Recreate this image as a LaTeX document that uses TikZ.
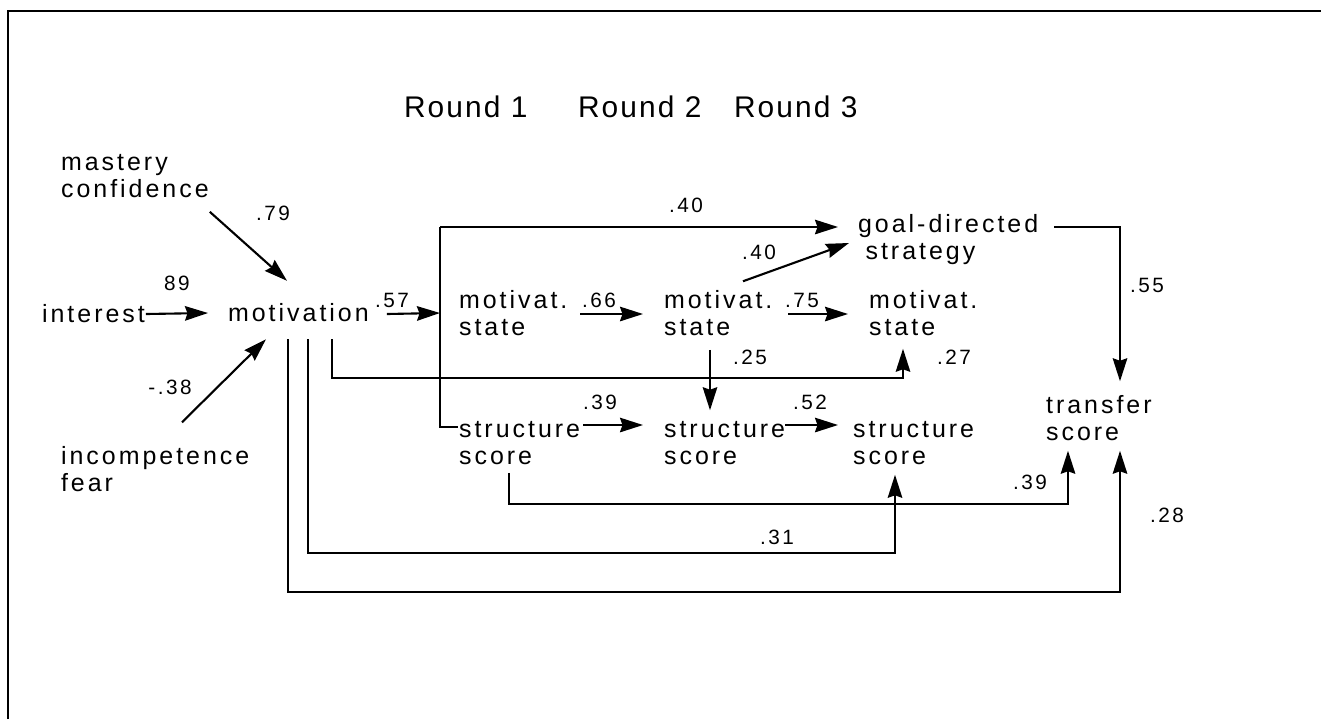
\documentclass[tikz,border=0pt]{standalone}
\usepackage{fontspec}
\usepackage{tikz}
\usetikzlibrary{arrows.meta,calc}
\newfontfamily\pathfont[LetterSpace=12]{Liberation Sans}
\newfontfamily\roundfont[LetterSpace=7]{Liberation Sans}

\begin{document}
\begin{tikzpicture}[x=0.2mm,y=-0.2mm,line width=1.2pt,
    >={Stealth[length=4.6mm,width=2.9mm,inset=0.5mm]},
    var/.style={anchor=west,align=left,inner sep=0pt,font=\pathfont\fontsize{14.2pt}{15.4pt}\selectfont},
    coef/.style={inner sep=0pt,font=\pathfont\fontsize{11.8pt}{12pt}\selectfont},
    roundlbl/.style={anchor=west,inner sep=0pt,font=\roundfont\fontsize{17pt}{18pt}\selectfont}]
    \useasboundingbox (0,0) rectangle (1321,719);
    \draw (8,719) -- (8,11) -- (1321,11);

    \node[roundlbl] (r1) at (403,107) {Round 1};
    \node[roundlbl] (r2) at (577,107) {Round 2};
    \node[roundlbl] (r3) at (733,107) {Round 3};

    \node[var] (mastery) at (60,176) {mastery\\confidence};
    \node[var] (interest) at (41,314) {interest};
    \node[var] (motiv) at (227,313) {motivation};
    \node[var] (incomp) at (60,469) {incompetence\\fear};
    \node[var] (ms1) at (458,313) {motivat.\\state};
    \node[var] (ms2) at (663,313) {motivat.\\state};
    \node[var] (ms3) at (868,313) {motivat.\\state};
    \node[var] (goal) at (857,240) {goal-directed\\\hspace*{0.3em}strategy};
    \node[var] (ss1) at (458,443) {structure\\score};
    \node[var] (ss2) at (663,443) {structure\\score};
    \node[var] (ss3) at (852,443) {structure\\score};
    \node[var] (transfer) at (1045,418) {transfer\\score};

    \coordinate (jtop) at (440,227);
    \coordinate (jbot) at (440,427);

    \draw[->] ($(mastery.south east)+(0,13)$) -- ($(motiv.north west)+(60,-22)$);
    \draw[->] (interest.east) -- ($(motiv.west)+(-19,0)$);
    \draw[->] ($(incomp.north west)+(122,-23)$) -- ($(motiv.south west)+(39,16)$);
    \draw[->] ($(motiv.east)+(17,1)$) -- (jtop |- motiv.east);
    \draw (jtop) -- (jbot) -- (jbot -| ss1.west);
    \draw[->] (jtop) -- ($(goal.west |- jtop)+(-19,0)$);
    \draw[->] ($(ms1.east)+(12,1)$) -- ($(ms2.west)+(-20,1)$);
    \draw[->] ($(ms2.east)+(15,1)$) -- ($(ms3.west)+(-20,1)$);
    \draw[->] ($(ms2.north west)+(80,-8)$) -- ($(goal.west)+(-8,3)$);
    \draw[->] ($(ms2.south west)+(47,13)$) -- ($(ss2.north west)+(47,-10)$);
    \draw[->] ($(motiv.south west)+(105,16)$) -- ++(0,39) -| ($(ms3.south west)+(35,12)$);
    \draw[->] ($(ss1.east)+(2,-18)$) -- ($(ss2.west)+(-20,-18)$);
    \draw[->] ($(ss2.east)+(-1,-18)$) -- ($(ss3.west)+(-14,-18)$);
    \draw[->] ($(ss1.south west)+(51,7)$) -- ++(0,31) -| ($(transfer.south west)+(23,9)$);
    \draw[->] ($(motiv.south west)+(81,16)$) -- ++(0,214) -| ($(ss3.south west)+(43,9)$);
    \draw[->] ($(motiv.south west)+(61,16)$) -- ++(0,253) -| ($(transfer.south west)+(75,9)$);
    \draw[->] ($(goal.east)+(15,-13)$) -| ($(transfer.north west)+(75,-13)$);

    \node[coef] (c79) at (273,213) {.79};
    \node[coef] (c89) at (177,283) {89};
    \node[coef] (c38) at (170,387) {-.38};
    \node[coef] (c57) at (392,300) {.57};
    \node[coef] (c40a) at (686,205) {.40};
    \node[coef] (c40b) at (759,252) {.40};
    \node[coef] (c66) at (599,300) {.66};
    \node[coef] (c75) at (802,300) {.75};
    \node[coef] (c25) at (750,357) {.25};
    \node[coef] (c27) at (954,357) {.27};
    \node[coef] (c55) at (1147,285) {.55};
    \node[coef] (c39a) at (600,402) {.39};
    \node[coef] (c52) at (810,402) {.52};
    \node[coef] (c39b) at (1030,482) {.39};
    \node[coef] (c31) at (777,537) {.31};
    \node[coef] (c28) at (1167,515) {.28};
  \end{tikzpicture}
\end{document}
